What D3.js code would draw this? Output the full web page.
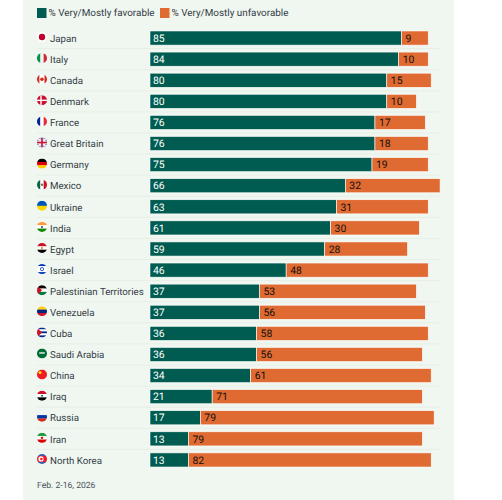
<!DOCTYPE html>
<html>
<head>
<meta charset="utf-8">
<style>
html,body{margin:0;padding:0;background:#fff;}
svg{display:block;}
text{font-family:Roboto,"Liberation Sans",sans-serif;text-rendering:geometricPrecision;}
</style>
<script src="https://cdnjs.cloudflare.com/ajax/libs/d3/7.8.5/d3.min.js"></script>
</head>
<body>
<svg id="chart" width="502" height="500"></svg>
<script>
const countries = ["Japan","Italy","Canada","Denmark","France","Great Britain","Germany","Mexico","Ukraine","India","Egypt","Israel","Palestinian Territories","Venezuela","Cuba","Saudi Arabia","China","Iraq","Russia","Iran","North Korea"];
const favorable = [85,84,80,80,76,76,75,66,63,61,59,46,37,37,36,36,34,21,17,13,13];
const unfavorable = [9,10,15,10,17,18,19,32,31,30,28,48,53,56,58,56,61,71,79,79,82];
const seriesNames = ["% Very/Mostly favorable","% Very/Mostly unfavorable"];
const seriesColors = ["#005c50","#df6b33"];
const footnote = "Feb. 2-16, 2026";

// Flag emblems: stripes plus a simple device, clipped to a disc.
const flags = {
  "Japan":{base:"#fff",dot:"#bc002d",dotR:3.2},
  "Italy":{v:["#009246","#f1f2f1","#ce2b37"]},
  "Canada":{v:["#d52b1e","#fff","#fff","#d52b1e"],dot:"#d52b1e",dotR:1.8},
  "Denmark":{base:"#c8102e",cross:"#fff"},
  "France":{v:["#002395","#fff","#ed2939"]},
  "Great Britain":{base:"#3c5aa6",saltire:"#f2f2f6",cross:"#c8102e",union:1},
  "Germany":{h:["#000","#dd0000","#ffce00"]},
  "Mexico":{v:["#006847","#fff","#ce1126"],dot:"#8a6a3a",dotR:1.2},
  "Ukraine":{h:["#0057b7","#ffd700"]},
  "India":{h:["#ff9933","#fff","#138808"],dot:"#3a3a90",dotR:1},
  "Egypt":{h:["#ce1126","#fff","#000"],dot:"#c09300",dotR:1},
  "Israel":{h:["#0038b8","#fff","#fff","#fff","#0038b8"],ring:"#0038b8"},
  "Palestinian Territories":{h:["#000","#fff","#007a3d"],tri:"#ce1126"},
  "Venezuela":{h:["#fcd116","#00247d","#cf142b"]},
  "Cuba":{h:["#002a8f","#fff","#002a8f","#fff","#002a8f"],tri:"#cf142b"},
  "Saudi Arabia":{base:"#006c35",bar:"#b9d6c2"},
  "China":{base:"#ee1c25",dot:"#ffde00",dotR:1.5,dotDx:-2,dotDy:-2},
  "Iraq":{h:["#ce1126","#fff","#000"],dot:"#007a3d",dotR:1},
  "Russia":{h:["#f4f4f4","#0039a6","#d52b1e"]},
  "Iran":{h:["#239f40","#fff","#da0000"],dot:"#da0000",dotR:1.2},
  "North Korea":{h:["#3a5ca8","#ed1c27","#ed1c27","#ed1c27","#3a5ca8"],dot:"#fff",dotR:2.6,dotDx:-1,inner:"#ed1c27"}
};

const svg = d3.select("#chart");

const panel = {left:23, right:454};
svg.append("rect").attr("x",panel.left).attr("y",0)
  .attr("width",panel.right-panel.left).attr("height",500).attr("fill","#f0f7f0");

const x = d3.scaleLinear().domain([0,100]).range([150,446]);
const y = d3.scaleBand().domain(countries).range([27.5,470.5]).paddingInner(0.33).paddingOuter(0.165);

// Legend
const legendX = [37,160];
seriesNames.forEach((name,i)=>{
  svg.append("rect").attr("x",legendX[i]).attr("y",8).attr("width",9.5).attr("height",10).attr("fill",seriesColors[i]);
  svg.append("text").attr("x",legendX[i]+11.5).attr("y",16.3)
    .attr("font-size",9.9).attr("fill","#333c46").text(name);
});

const rows = svg.append("g").selectAll("g").data(countries).join("g")
  .attr("transform",d=>`translate(0,${y(d)})`);
const bh = y.bandwidth();

// Row separators
rows.filter((d,i)=>i<countries.length-1).append("line")
  .attr("x1",37).attr("x2",440).attr("y1",bh+3.5).attr("y2",bh+3.5)
  .attr("stroke","#e6eee7").attr("stroke-width",1);

// Stacked bars
rows.append("rect").attr("x",x(0)).attr("y",0)
  .attr("width",(d,i)=>x(favorable[i])-x(0)).attr("height",bh)
  .attr("fill",seriesColors[0]).attr("stroke","#fff").attr("stroke-width",0.6);
rows.append("rect").attr("x",(d,i)=>x(favorable[i])).attr("y",0)
  .attr("width",(d,i)=>x(unfavorable[i])-x(0)).attr("height",bh)
  .attr("fill",seriesColors[1]).attr("stroke","#fff").attr("stroke-width",0.6);

// Value labels
rows.append("text").attr("x",x(0)+3).attr("y",bh/2+3.7)
  .attr("font-size",10.4).attr("fill","#fff").text((d,i)=>favorable[i]);
rows.append("text").attr("x",(d,i)=>x(favorable[i])+4).attr("y",bh/2+3.7)
  .attr("font-size",10.4).attr("fill","#140e0a").text((d,i)=>unfavorable[i]);

// Country labels
rows.append("text").attr("x",50).attr("y",bh/2+3.7)
  .attr("font-size",9.7).attr("fill","#333c46").text(d=>d);

// Flag discs
const flagR = 5;
const flagCx = 42;
svg.append("defs").selectAll("clipPath").data(countries).join("clipPath")
  .attr("id",(d,i)=>"fc"+i).append("circle").attr("r",flagR);

rows.each(function(d,i){
  const f = flags[d];
  const g = d3.select(this).append("g")
    .attr("transform",`translate(${flagCx},${bh/2-1})`)
    .attr("clip-path",`url(#fc${i})`);
  const s = flagR*2;
  if(f.base) g.append("rect").attr("x",-flagR).attr("y",-flagR).attr("width",s).attr("height",s).attr("fill",f.base);
  if(f.h){
    const b = d3.scaleBand().domain(d3.range(f.h.length)).range([-flagR,flagR]);
    f.h.forEach((c,k)=>g.append("rect").attr("x",-flagR).attr("y",b(k)).attr("width",s).attr("height",b.bandwidth()+0.2).attr("fill",c));
  }
  if(f.v){
    const b = d3.scaleBand().domain(d3.range(f.v.length)).range([-flagR,flagR]);
    f.v.forEach((c,k)=>g.append("rect").attr("y",-flagR).attr("x",b(k)).attr("height",s).attr("width",b.bandwidth()+0.2).attr("fill",c));
  }
  if(f.saltire){
    g.append("path").attr("d",`M${-flagR},${-flagR}L${flagR},${flagR}M${flagR},${-flagR}L${-flagR},${flagR}`)
      .attr("stroke",f.saltire).attr("stroke-width",2);
  }
  if(f.union){
    g.append("rect").attr("x",-flagR).attr("y",-1.6).attr("width",s).attr("height",3.2).attr("fill","#f2f2f6");
    g.append("rect").attr("x",-1.6).attr("y",-flagR).attr("width",3.2).attr("height",s).attr("fill","#f2f2f6");
    g.append("rect").attr("x",-flagR).attr("y",-0.8).attr("width",s).attr("height",1.6).attr("fill",f.cross);
    g.append("rect").attr("x",-0.8).attr("y",-flagR).attr("width",1.6).attr("height",s).attr("fill",f.cross);
  } else if(f.cross){
    g.append("rect").attr("x",-flagR).attr("y",-0.7).attr("width",s).attr("height",1.4).attr("fill",f.cross);
    g.append("rect").attr("x",-1.7).attr("y",-flagR).attr("width",1.4).attr("height",s).attr("fill",f.cross);
  }
  if(f.tri) g.append("path").attr("d",`M${-flagR},${-flagR}L0,0L${-flagR},${flagR}Z`).attr("fill",f.tri);
  if(f.bar) g.append("rect").attr("x",-2.8).attr("y",-1.4).attr("width",5.6).attr("height",1.8).attr("fill",f.bar);
  if(f.ring) g.append("circle").attr("r",1.6).attr("fill","none").attr("stroke",f.ring).attr("stroke-width",0.8);
  if(f.dot) g.append("circle").attr("cx",f.dotDx||0).attr("cy",f.dotDy||0).attr("r",f.dotR).attr("fill",f.dot);
  if(f.inner) g.append("circle").attr("cx",-0.6).attr("r",1.3).attr("fill",f.inner);
});

// Survey dates
svg.append("text").attr("x",37).attr("y",488).attr("font-size",8.6)
  .attr("fill","#4a535c").text(footnote);
</script>
</body>
</html>
